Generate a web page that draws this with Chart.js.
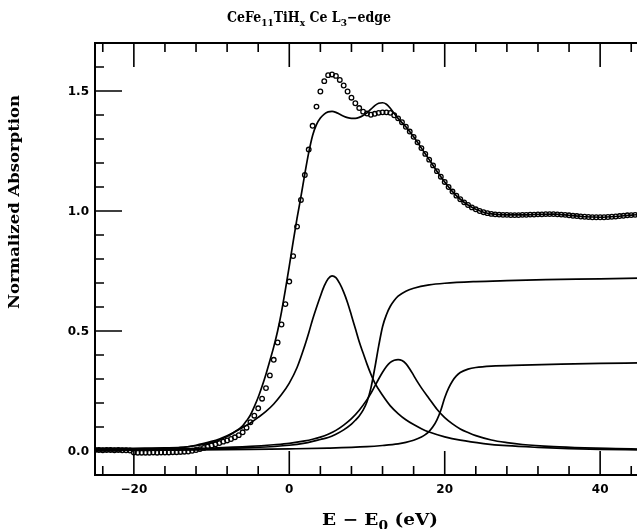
<!DOCTYPE html>
<html>
<head>
<meta charset="utf-8">
<script src="https://cdn.jsdelivr.net/npm/chart.js@4.4.1/dist/chart.umd.min.js"></script>
<style>
  html, body { margin: 0; padding: 0; background: #fff; overflow: hidden; }
  #wrap { width: 637px; height: 529px; overflow: hidden; }
  canvas { display: block; }
</style>
</head>
<body>
<div id="wrap"><canvas id="xanes" width="645" height="529"></canvas></div>
<script>
// measured spectrum, E - E0 in eV
const energy = [
  -25,-24.5,-24,-23.5,-23,-22.5,-22,-21.5,-21,-20.5,
  -20,-19.5,-19,-18.5,-18,-17.5,-17,-16.5,-16,-15.5,
  -15,-14.5,-14,-13.5,-13,-12.5,-12,-11.5,-11,-10.5,
  -10,-9.5,-9,-8.5,-8,-7.5,-7,-6.5,-6,-5.5,
  -5,-4.5,-4,-3.5,-3,-2.5,-2,-1.5,-1,-0.5,
  0,0.5,1,1.5,2,2.5,3,3.5,4,4.5,
  5,5.5,6,6.5,7,7.5,8,8.5,9,9.5,
  10,10.5,11,11.5,12,12.5,13,13.5,14,14.5,
  15,15.5,16,16.5,17,17.5,18,18.5,19,19.5,
  20,20.5,21,21.5,22,22.5,23,23.5,24,24.5,
  25,25.5,26,26.5,27,27.5,28,28.5,29,29.5,
  30,30.5,31,31.5,32,32.5,33,33.5,34,34.5,
  35,35.5,36,36.5,37,37.5,38,38.5,39,39.5,
  40,40.5,41,41.5,42,42.5,43,43.5,44,44.5,
  45
];
const absorption = [
  0.004,0.004,0.003,0.004,0.004,0.003,0.004,0.003,0.003,0.002,
  -0.006,-0.007,-0.007,-0.007,-0.007,-0.006,-0.007,-0.006,-0.006,-0.006,
  -0.005,-0.005,-0.004,-0.003,-0.002,0.001,0.004,0.008,0.013,0.018,
  0.023,0.028,0.033,0.039,0.044,0.050,0.057,0.066,0.078,0.097,
  0.120,0.147,0.178,0.218,0.262,0.315,0.380,0.452,0.527,0.612,
  0.706,0.812,0.935,1.046,1.150,1.256,1.355,1.435,1.498,1.541,
  1.566,1.569,1.563,1.546,1.523,1.498,1.472,1.449,1.429,1.414,
  1.406,1.401,1.405,1.409,1.411,1.411,1.409,1.399,1.386,1.370,
  1.351,1.331,1.309,1.286,1.262,1.238,1.214,1.190,1.166,1.143,
  1.121,1.100,1.081,1.064,1.049,1.036,1.025,1.015,1.007,1.000,
  0.995,0.991,0.988,0.986,0.985,0.984,0.984,0.983,0.983,0.983,
  0.984,0.984,0.985,0.985,0.986,0.986,0.987,0.987,0.987,0.986,
  0.985,0.984,0.982,0.980,0.979,0.977,0.976,0.975,0.974,0.974,
  0.974,0.974,0.975,0.976,0.977,0.979,0.980,0.982,0.983,0.984,
  0.985
];

// total fit
const fitE = [-25,-21,-18,-16,-14,-12,-11,-10,-9,-8,-7,-6,-5.5,-5,-4.5,-4,-3.5,-3,-2.5,-2,-1.5,-1,-0.5,
  0,0.5,1,1.5,2,2.5,3,3.5,4,4.5,5,5.5,6,6.5,7,7.5,8,8.5,9,9.5,10,10.5,11,11.5,12,12.5,13,13.5,14,
  15,16,17,18,19,20,21,22,23,24,25,26,28,30,32,34,36,38,40,42,44,45];
const fitMu = [0.011,0.011,0.012,0.013,0.015,0.022,0.027,0.035,0.046,0.060,0.080,0.105,0.126,0.150,0.185,0.224,0.270,0.320,0.376,0.434,0.500,0.580,0.672,
  0.770,0.872,0.970,1.060,1.155,1.243,1.315,1.360,1.387,1.404,1.413,1.415,1.411,1.403,1.395,1.389,1.386,1.386,1.390,1.398,1.409,1.424,1.439,1.449,1.451,1.445,1.428,1.406,1.386,
  1.351,1.309,1.262,1.214,1.166,1.121,1.081,1.049,1.025,1.007,0.995,0.988,0.984,0.984,0.986,0.987,0.982,0.976,0.974,0.977,0.983,0.985];

// first white-line peak
const peakAE = [-25,-20,-16,-14,-12,-10,-9,-8,-7,-6,-5,-4,-3,-2,-1,0,1,2,2.5,3,3.5,4,4.5,5,5.5,6,6.5,7,7.5,8,8.5,9,9.5,10,10.5,11,
  12,13,14,15,16,17,18,20,22,25,28,32,36,40,45];
const peakA = [0.007,0.009,0.011,0.014,0.024,0.040,0.050,0.063,0.080,0.098,0.117,0.140,0.165,0.196,0.235,0.283,0.348,0.440,0.492,0.548,0.598,0.645,0.688,0.718,0.730,0.722,0.697,0.662,0.618,0.565,0.510,0.455,0.408,0.362,0.320,0.284,
  0.232,0.188,0.156,0.130,0.110,0.093,0.079,0.059,0.045,0.031,0.022,0.015,0.010,0.007,0.005];

// second white-line peak
const peakBE = [-25,-20,-15,-10,-5,-2,0,2,3,4,5,6,7,8,9,10,10.5,11,11.5,12,12.5,13,13.5,14,14.5,15,15.5,16,16.5,17,18,19,20,21,22,23,24,26,28,30,34,38,42,45];
const peakB = [0.004,0.005,0.008,0.012,0.019,0.026,0.032,0.042,0.049,0.058,0.070,0.086,0.108,0.135,0.170,0.214,0.240,0.270,0.300,0.328,0.352,0.369,0.378,0.381,0.377,0.364,0.342,0.315,0.288,0.263,0.218,0.174,0.139,0.113,0.092,0.077,0.064,0.046,0.035,0.027,0.018,0.013,0.010,0.008];

// edge steps
const stepAE = [-25,-15,-10,-5,0,2,3,4,5,6,7,8,8.5,9,9.5,10,10.5,11,11.5,12,12.5,13,13.5,14,15,16,18,20,24,28,33,40,45];
const stepA = [0.003,0.006,0.009,0.014,0.024,0.033,0.040,0.048,0.056,0.070,0.088,0.112,0.128,0.146,0.170,0.205,0.262,0.345,0.437,0.518,0.568,0.603,0.627,0.645,0.666,0.678,0.692,0.699,0.706,0.710,0.714,0.717,0.720];
const stepBE = [-25,-15,-5,0,5,10,12,14,15,16,17,17.5,18,18.5,19,19.5,20,20.5,21,21.5,22,23,24,26,30,35,40,45];
const stepB = [0.002,0.004,0.007,0.009,0.012,0.018,0.023,0.030,0.036,0.045,0.058,0.068,0.082,0.102,0.130,0.170,0.222,0.262,0.292,0.313,0.327,0.341,0.348,0.354,0.358,0.362,0.365,0.367];

// axis ticks and labels
const xMajor = [-20, 0, 20, 40];
const xTickLabels = ['\u221220', '0', '20', '40'];
const xMinor = [-24, -16, -12, -8, -4, 4, 8, 12, 16, 24, 28, 32, 36, 44];
const yMajor = [0, 0.5, 1.0, 1.5];
const yTickLabels = ['0.0', '0.5', '1.0', '1.5'];
const yMinor = [0.1, 0.2, 0.3, 0.4, 0.6, 0.7, 0.8, 0.9, 1.1, 1.2, 1.3, 1.4, 1.6];

const pts = (xs, ys) => xs.map((x, i) => ({ x, y: ys[i] }));

const curve = (xs, ys) => ({
  data: pts(xs, ys), showLine: true, borderColor: '#000', borderWidth: 1.7,
  pointRadius: 0, cubicInterpolationMode: 'monotone', fill: false
});

// draws text with subscripts, squeezed/stretched to a given width
function richText(ctx, parts, cx, base, size, weight, width, family) {
  const sub = Math.round(size * 0.72);
  const fontFor = p => `${weight} ${p.sub ? sub : size}px ${family}`;
  let w = 0;
  parts.forEach(p => { ctx.font = fontFor(p); w += ctx.measureText(p.t).width; });
  ctx.save();
  ctx.translate(cx - width / 2, base);
  ctx.scale(width / w, 1);
  let x = 0;
  parts.forEach(p => {
    ctx.font = fontFor(p);
    ctx.fillText(p.t, x, p.sub ? size * 0.3 : 0);
    x += ctx.measureText(p.t).width;
  });
  ctx.restore();
}

// box, inward ticks and all the lettering
const frame = {
  id: 'frame',
  afterDraw(chart) {
    const { ctx, chartArea: a, scales: { x, y } } = chart;
    ctx.save();
    ctx.strokeStyle = '#000';
    ctx.fillStyle = '#000';
    ctx.lineWidth = 2;
    ctx.lineCap = 'square';
    ctx.strokeRect(a.left, a.top, a.right - a.left, a.bottom - a.top);

    ctx.lineWidth = 1.6;
    ctx.lineCap = 'butt';
    ctx.beginPath();
    const xt = (v, len) => {
      const px = x.getPixelForValue(v);
      ctx.moveTo(px, a.bottom); ctx.lineTo(px, a.bottom - len);
      ctx.moveTo(px, a.top); ctx.lineTo(px, a.top + len);
    };
    const yt = (v, len) => {
      const py = y.getPixelForValue(v);
      ctx.moveTo(a.left, py); ctx.lineTo(a.left + len, py);
    };
    xMajor.forEach(v => xt(v, 24));
    xMinor.forEach(v => xt(v, 9));
    yMajor.forEach(v => yt(v, 27));
    yMinor.forEach(v => yt(v, 9));
    ctx.stroke();

    ctx.font = 'bold 12px "DejaVu Sans"';
    ctx.textAlign = 'center';
    ctx.textBaseline = 'alphabetic';
    xMajor.forEach((v, i) => ctx.fillText(xTickLabels[i], x.getPixelForValue(v), 493));
    ctx.textAlign = 'right';
    ctx.textBaseline = 'middle';
    yMajor.forEach((v, i) => ctx.fillText(yTickLabels[i], 89, y.getPixelForValue(v) + 1));

    ctx.textAlign = 'left';
    ctx.textBaseline = 'alphabetic';
    richText(ctx, [{ t: 'CeFe' }, { t: '11', sub: true }, { t: 'TiH' }, { t: 'x', sub: true },
      { t: ' Ce L' }, { t: '3', sub: true }, { t: '\u2212edge' }], 309, 22, 14, 'bold', 164, '"DejaVu Serif"');
    richText(ctx, [{ t: 'E \u2212 E' }, { t: '0', sub: true }, { t: ' (eV)' }], 380, 525, 16, 'bold', 116, '"DejaVu Serif"');

    ctx.translate(19, 202);
    ctx.rotate(-Math.PI / 2);
    richText(ctx, [{ t: 'Normalized Absorption' }], 0, 0, 15, 'bold', 214, '"DejaVu Serif"');
    ctx.restore();
  }
};

new Chart(document.getElementById('xanes').getContext('2d'), {
  type: 'line',
  data: {
    datasets: [
      curve(stepBE, stepB),
      curve(stepAE, stepA),
      curve(peakBE, peakB),
      curve(peakAE, peakA),
      curve(fitE, fitMu),
      { data: pts(energy, absorption), showLine: false, pointStyle: 'circle',
        pointRadius: 2.3, pointBorderWidth: 1.3, pointBorderColor: '#000',
        pointBackgroundColor: 'rgba(0,0,0,0)' }
    ]
  },
  options: {
    responsive: false, animation: false,
    layout: { padding: { left: 95, right: 6, top: 43, bottom: 54 } },
    plugins: { legend: { display: false }, tooltip: { enabled: false } },
    scales: {
      x: { type: 'linear', min: -25, max: 45, display: false },
      y: { type: 'linear', min: -0.1, max: 1.7, display: false }
    }
  },
  plugins: [frame]
});
</script>
</body>
</html>
